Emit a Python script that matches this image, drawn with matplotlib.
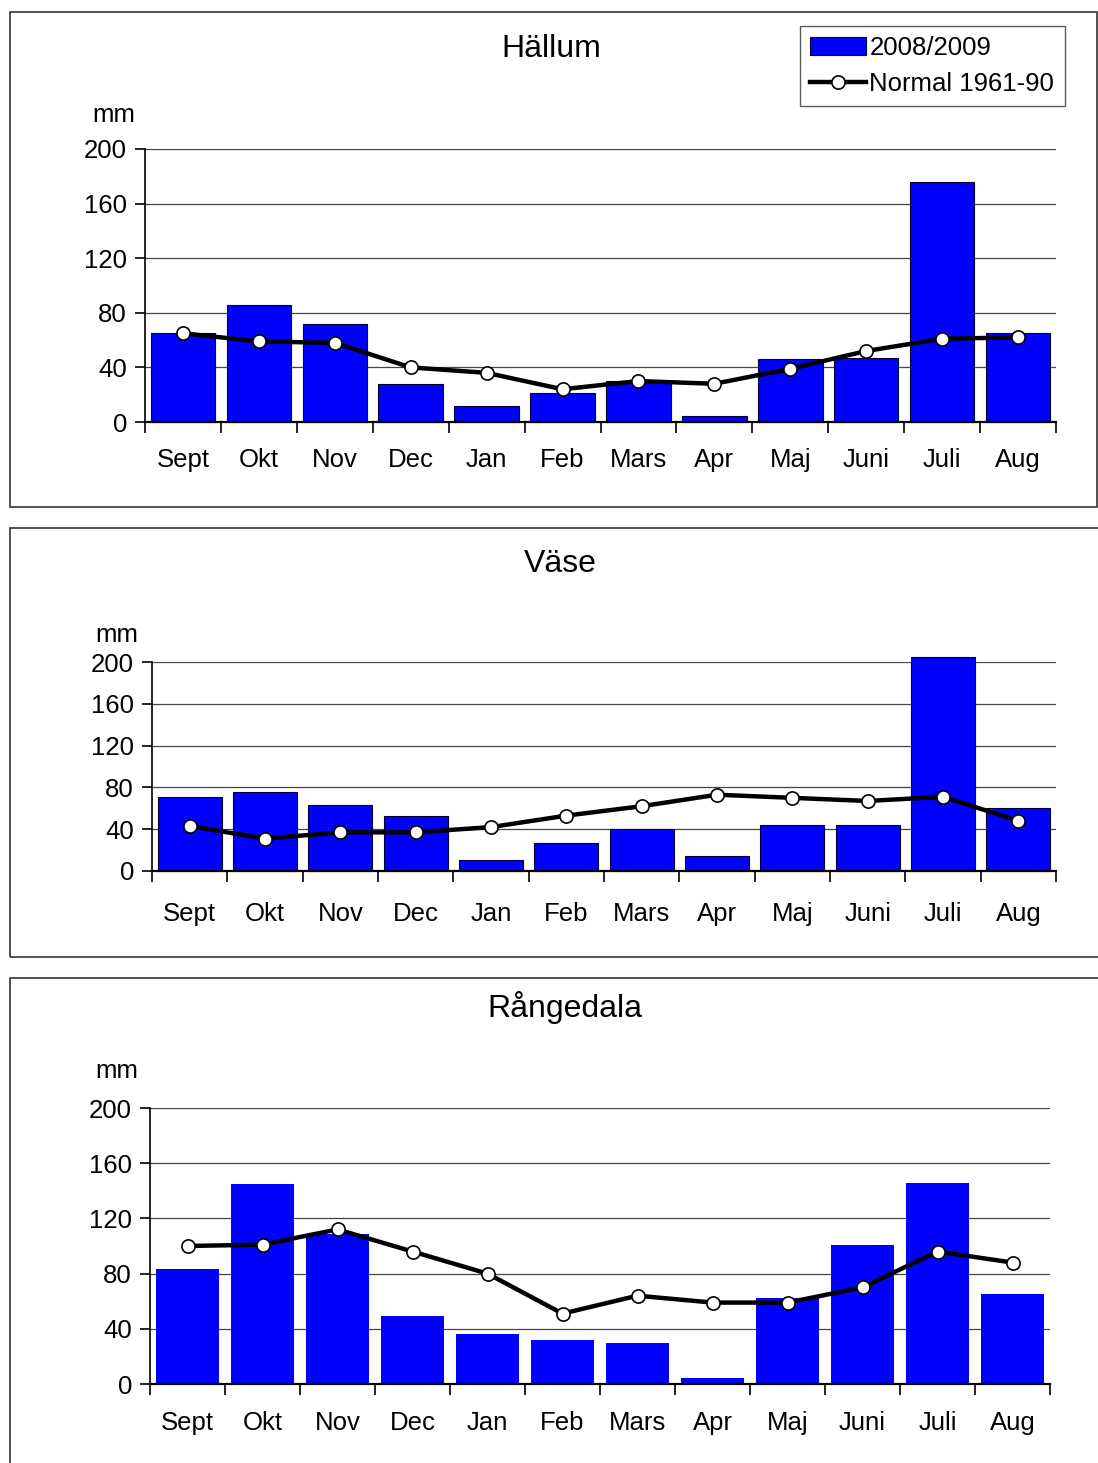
import matplotlib
matplotlib.use("Agg")
import matplotlib.pyplot as plt
from matplotlib.patches import Rectangle
from matplotlib.lines import Line2D
import numpy as np

plt.rcParams['font.family'] = ['Liberation Sans', 'DejaVu Sans']

months = ["Sept", "Okt", "Nov", "Dec", "Jan", "Feb", "Mars", "Apr",
          "Maj", "Juni", "Juli", "Aug"]
yticks = [0, 40, 80, 120, 160, 200]

# precipitation per month, mm
hallum_2009 = [65, 86, 72, 28, 12, 21, 30, 4.5, 46, 47, 176, 65]
hallum_norm = [65, 59, 58, 40, 36, 24, 30, 28, 39, 52, 61, 62]

vase_2009 = [71, 76, 63, 53, 11, 27, 40, 14, 44, 44, 205, 60]
vase_norm = [43, 31, 37, 37, 42, 53, 62, 73, 70, 67, 71, 48]

rangedala_2009 = [83, 145, 109, 49, 36, 32, 30, 4, 62, 101, 146, 65]
rangedala_norm = [100, 101, 112, 96, 80, 51, 64, 59, 59, 70, 96, 88]

W, H = 1098, 1463
FS = 18.5
fig = plt.figure(figsize=(W / 100, H / 100), dpi=100)


def px(x0, y0, x1, y1):
    # pixel box -> figure fraction [left, bottom, width, height]
    return [x0 / W, 1 - y1 / H, (x1 - x0) / W, (y1 - y0) / H]


def frame(y0, y1, x1):
    fig.patches.append(Rectangle((10 / W, 1 - y1 / H), (x1 - 10) / W, (y1 - y0) / H,
                                 transform=fig.transFigure, fill=False,
                                 edgecolor="#333333", lw=1.2))


def panel(box, title, title_xy, mm_xy, bars, normal, edge, label_pad):
    ax = fig.add_axes(px(*box))
    x = np.arange(len(months))
    ax.bar(x, bars, width=0.85, color="#0000ff",
           edgecolor="#000033" if edge else "none", linewidth=0.8 if edge else 0,
           zorder=2, clip_on=False)
    ax.plot(x, normal, color="black", lw=3.2, marker="o", ms=9.5,
            mfc="white", mec="black", mew=1.2, zorder=3, clip_on=False)
    ax.set_xlim(-0.5, len(months) - 0.5)
    ax.set_ylim(0, 200)
    ax.set_yticks(yticks)
    ax.yaxis.grid(True, color="#444444", lw=0.9)
    ax.set_axisbelow(True)
    ax.set_xticks(np.arange(-0.5, len(months)), minor=False)
    ax.set_xticklabels([])
    ax.set_xticks(x, minor=True)
    ax.set_xticklabels(months, minor=True)
    ax.tick_params(axis="x", which="major", length=8, width=1.2, direction="out")
    ax.tick_params(axis="x", which="minor", length=0, pad=label_pad, labelsize=FS)
    ax.tick_params(axis="y", length=7, width=1.2, labelsize=FS, pad=6)
    for s in ["top", "right"]:
        ax.spines[s].set_visible(False)
    ax.spines["left"].set_linewidth(1.2)
    ax.spines["bottom"].set_linewidth(1.6)
    fig.text(title_xy[0] / W, 1 - title_xy[1] / H, title,
             ha="center", va="center", fontsize=23)
    fig.text(mm_xy[0] / W, 1 - mm_xy[1] / H, "mm", ha="center", va="center",
             fontsize=FS)
    return ax


frame(12, 507, 1097)
frame(528, 957, 1120)
frame(978, 1490, 1120)

panel((145, 149, 1056, 422), "Hällum", (551, 49), (114, 115),
      hallum_2009, hallum_norm, True, 18.5)
panel((152, 662, 1056, 871), "Väse", (560, 564), (117, 635),
      vase_2009, vase_norm, True, 22)
panel((150, 1108, 1050, 1384), "Rångedala", (565, 1008), (117, 1071),
      rangedala_2009, rangedala_norm, False, 19.5)

# legend for the top panel
handles = [Rectangle((0, 0), 1, 1, facecolor="#0000ff", edgecolor="#000033", lw=0.8),
           Line2D([], [], color="black", lw=3.2, marker="o", ms=9.5,
                  mfc="white", mec="black", mew=1.2)]
leg = fig.legend(handles, ["2008/2009", "Normal 1961-90"],
                 loc="upper left", bbox_to_anchor=(800 / W, 1 - 26 / H),
                 frameon=True, fancybox=False, fontsize=FS,
                 handlelength=2.15, handletextpad=0.15, labelspacing=0.45,
                 borderpad=0.4, borderaxespad=0)
leg.get_frame().set_edgecolor("#333333")
leg.get_frame().set_linewidth(1.0)

fig.savefig("out.png", dpi=100)
